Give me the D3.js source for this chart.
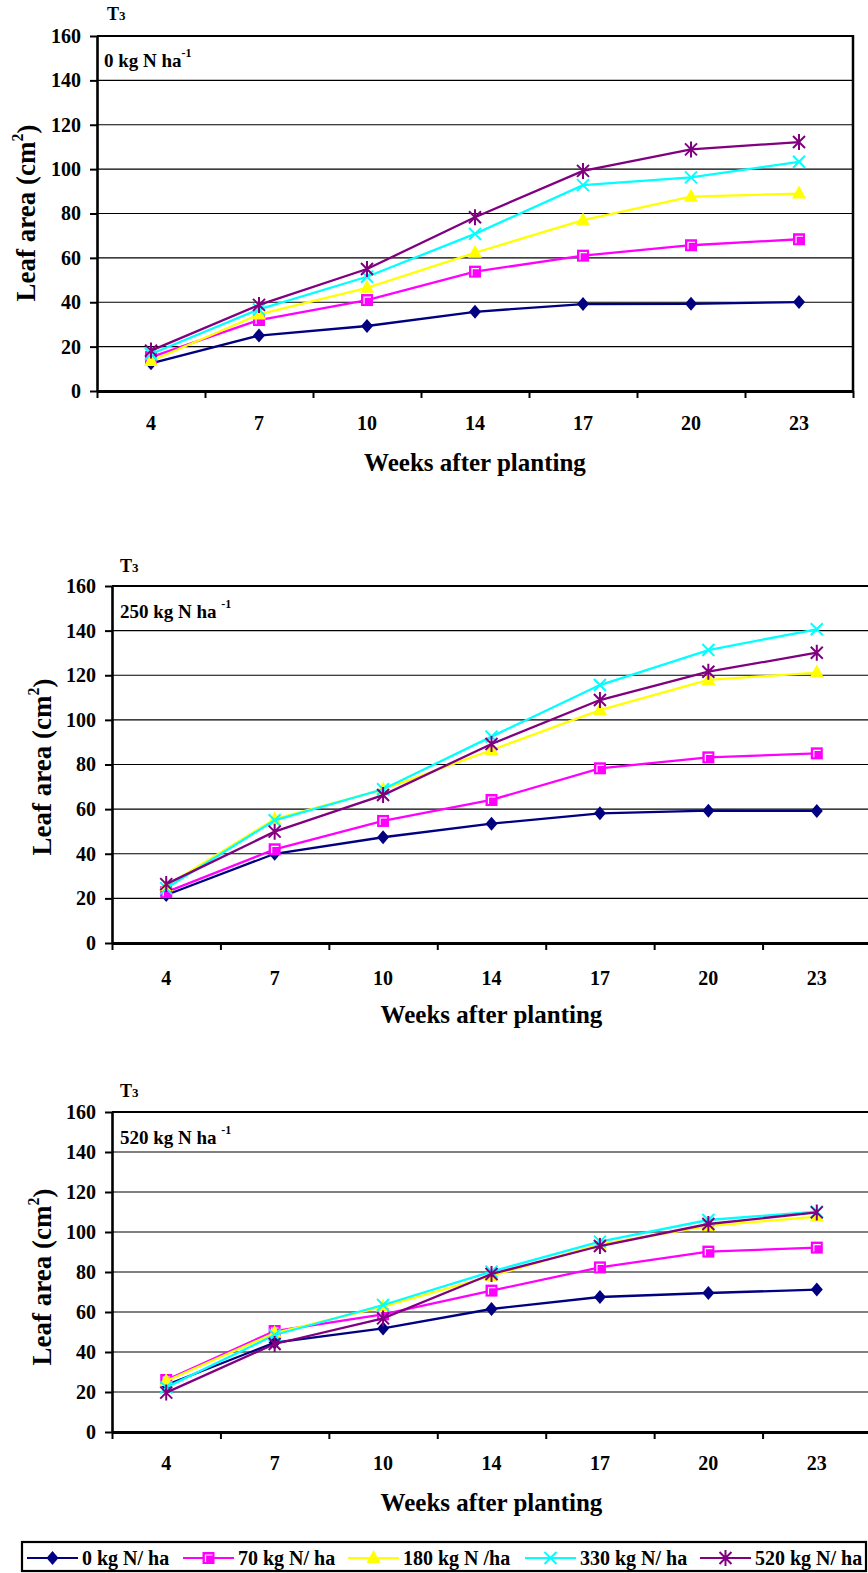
<!DOCTYPE html>
<html><head><meta charset="utf-8">
<script src="https://cdn.jsdelivr.net/npm/d3@7"></script>
<style>
body{margin:0;background:#fff;}
svg{display:block;}
svg text{font-family:"Times New Roman","Liberation Serif",Times,"DejaVu Serif",serif !important;font-weight:bold;}
</style></head><body>
<svg id="c" width="868" height="1573"></svg>
<script>
// ---------- data ----------
const weeks = ["4","7","10","14","17","20","23"];
const seriesNames = ["0 kg N/ ha","70 kg N/ ha","180 kg N /ha","330 kg N/ ha","520 kg N/ ha"];
const yTicks = [0,20,40,60,80,100,120,140,160];
const panelLabels = ["0 kg N ha","250 kg N ha ","520 kg N ha "];
// panel 1: 0 kg N ha-1
const p1_0   = [12.5,25.0,29.3,35.7,39.2,39.3,40.1];
const p1_70  = [15.3,32.0,41.0,53.8,61.0,65.7,68.4];
const p1_180 = [13.5,34.5,46.5,62.3,77.0,87.6,89.0];
const p1_330 = [16.7,36.8,51.5,70.8,92.8,96.3,103.3];
const p1_520 = [18.2,38.8,55.0,78.3,99.2,108.9,112.2];
// panel 2: 250 kg N ha-1
const p2_0   = [21.5,40.0,47.4,53.5,58.1,59.3,59.2];
const p2_70  = [22.8,42.0,54.7,64.1,78.3,83.2,85.0];
const p2_180 = [25.5,55.5,68.8,86.5,104.4,117.9,121.2];
const p2_330 = [24.5,55.0,68.9,92.5,115.6,131.3,140.6];
const p2_520 = [26.4,49.9,66.3,89.2,108.9,121.6,130.1];
// panel 3: 520 kg N ha-1
const p3_0   = [23.5,44.7,51.8,61.5,67.5,69.5,71.2];
const p3_70  = [26.0,50.5,58.8,70.7,82.3,90.2,92.2];
const p3_180 = [25.5,49.5,62.7,78.0,93.8,103.0,107.7];
const p3_330 = [22.3,48.5,63.5,80.2,95.2,106.0,110.2];
const p3_520 = [19.7,44.0,56.8,79.0,93.0,104.0,109.8];

const panelData = [
  [p1_0,p1_70,p1_180,p1_330,p1_520],
  [p2_0,p2_70,p2_180,p2_330,p2_520],
  [p3_0,p3_70,p3_180,p3_330,p3_520]
];

// ---------- styles / layout ----------
const colors = ["#000080","#FF00FF","#FFFF00","#00FFFF","#800080"];
const layouts = [
  {x0:97, x1:853, yT:36,  yB:391,  rightBorder:true,  t3:[107,20], lab:[104,67], ytx:26, yty:213, xlab:430, xtitle:471},
  {x0:112,x1:871, yT:586, yB:943,  rightBorder:false, t3:[120,572], lab:[120,618], ytx:42, yty:767, xlab:985, xtitle:1023},
  {x0:112,x1:871, yT:1112,yB:1432, rightBorder:false, t3:[120,1097], lab:[120,1144], ytx:42, yty:1277, xlab:1470, xtitle:1511}
];

const svg = d3.select("#c");

function marker(g, type, color){
  if(type===0){
    g.append("path").attr("d","M0,-7L6,0L0,7L-6,0Z").attr("fill",color);
  } else if(type===1){
    g.append("rect").attr("x",-6).attr("y",-6).attr("width",12).attr("height",12).attr("fill",color);
    g.append("path").attr("d","M-3,4V-3H4").attr("fill","none").attr("stroke","#fff").attr("stroke-width",1.2);
  } else if(type===2){
    g.append("path").attr("d","M0,-8L7,5L-7,5Z").attr("fill",color);
  } else if(type===3){
    g.append("path").attr("d","M-6,-6L6,6M6,-6L-6,6").attr("stroke",color).attr("stroke-width",2).attr("fill","none");
  } else {
    g.append("path").attr("d","M-6,-6L6,6M6,-6L-6,6M0,-8V8").attr("stroke",color).attr("stroke-width",2).attr("fill","none");
  }
}

panelData.forEach((series, pi) => {
  const L = layouts[pi];
  const g = svg.append("g");
  const xi = d3.scaleLinear().domain([0, weeks.length]).range([L.x0, L.x1]);
  const y = d3.scaleLinear().domain([0,160]).range([L.yB, L.yT]);

  g.append("g").selectAll("line").data(yTicks.filter(v=>v>0 && v<160)).join("line")
    .attr("x1",L.x0).attr("x2",L.x1).attr("y1",d=>y(d)).attr("y2",d=>y(d))
    .attr("stroke","#000").attr("stroke-width",1.2);
  g.append("line").attr("x1",L.x0).attr("x2",L.x1).attr("y1",y(160)).attr("y2",y(160))
    .attr("stroke","#000").attr("stroke-width",2.2);
  if(L.rightBorder){
    g.append("line").attr("x1",L.x1).attr("x2",L.x1).attr("y1",y(160)-1).attr("y2",y(0))
      .attr("stroke","#000").attr("stroke-width",2.5);
  }

  const ya = g.append("g").attr("transform",`translate(${L.x0},0)`)
    .call(d3.axisLeft(y).tickValues(yTicks).tickSize(7).tickPadding(9).tickSizeOuter(0));
  ya.attr("font-family",null).attr("font-size",null);
  ya.select(".domain").attr("stroke-width",2.6);
  ya.selectAll(".tick line").attr("stroke-width",2);
  ya.selectAll("text").attr("font-size",20).attr("fill","#000");

  const xa = g.append("g").attr("transform",`translate(0,${L.yB})`)
    .call(d3.axisBottom(xi).tickValues(d3.range(weeks.length+1)).tickSize(7).tickFormat("").tickSizeOuter(0));
  xa.select(".domain").attr("stroke-width",3);
  xa.selectAll(".tick line").attr("stroke-width",2);

  g.append("g").selectAll("text").data(weeks).join("text")
    .attr("x",(d,i)=>xi(i+0.5)).attr("y",L.xlab).attr("text-anchor","middle")
    .attr("font-size",20).text(d=>d);

  g.append("text").attr("x",(L.x0+L.x1)/2).attr("y",L.xtitle).attr("text-anchor","middle")
    .attr("font-size",25).text("Weeks after planting");

  const yt = g.append("text").attr("transform",`translate(${L.ytx},${L.yty}) rotate(-90)`)
    .attr("text-anchor","middle").attr("dy","0.35em").attr("font-size",27);
  yt.append("tspan").text("Leaf area (cm");
  yt.append("tspan").attr("font-size",16).attr("dy","-0.75em").text("2");
  yt.append("tspan").attr("dy","0.45em").text(")");

  const t3 = g.append("text").attr("x",L.t3[0]).attr("y",L.t3[1]).attr("font-size",18);
  t3.append("tspan").text("T");
  t3.append("tspan").attr("font-size",13).text("3");

  const pl = g.append("text").attr("x",L.lab[0]).attr("y",L.lab[1]).attr("font-size",19);
  pl.append("tspan").text(panelLabels[pi]);
  pl.append("tspan").attr("font-size",12).attr("dy","-0.8em").text("-1");

  const line = d3.line().x((d,i)=>xi(i+0.5)).y(d=>y(d));
  series.forEach((vals, si) => {
    g.append("path").datum(vals).attr("d",line).attr("fill","none")
      .attr("stroke",colors[si]).attr("stroke-width",2.3);
    vals.forEach((v,i)=>{
      const m = g.append("g").attr("transform",`translate(${xi(i+0.5)},${y(v)})`);
      marker(m, si, colors[si]);
    });
  });
});

// legend
const lg = svg.append("g");
lg.append("rect").attr("x",22).attr("y",1542).attr("width",844).attr("height",29)
  .attr("fill","#fff").attr("stroke","#000").attr("stroke-width",2.2);
const legX = [27,183,348,525,700];
seriesNames.forEach((n,i)=>{
  const x = legX[i];
  lg.append("line").attr("x1",x).attr("x2",x+51).attr("y1",1558).attr("y2",1558)
    .attr("stroke",colors[i]).attr("stroke-width",2.2);
  const m = lg.append("g").attr("transform",`translate(${x+25.5},1558)`);
  marker(m, i, colors[i]);
  lg.append("text").attr("x",x+55).attr("y",1565).attr("font-size",20).text(n);
});
</script>
</body></html>
